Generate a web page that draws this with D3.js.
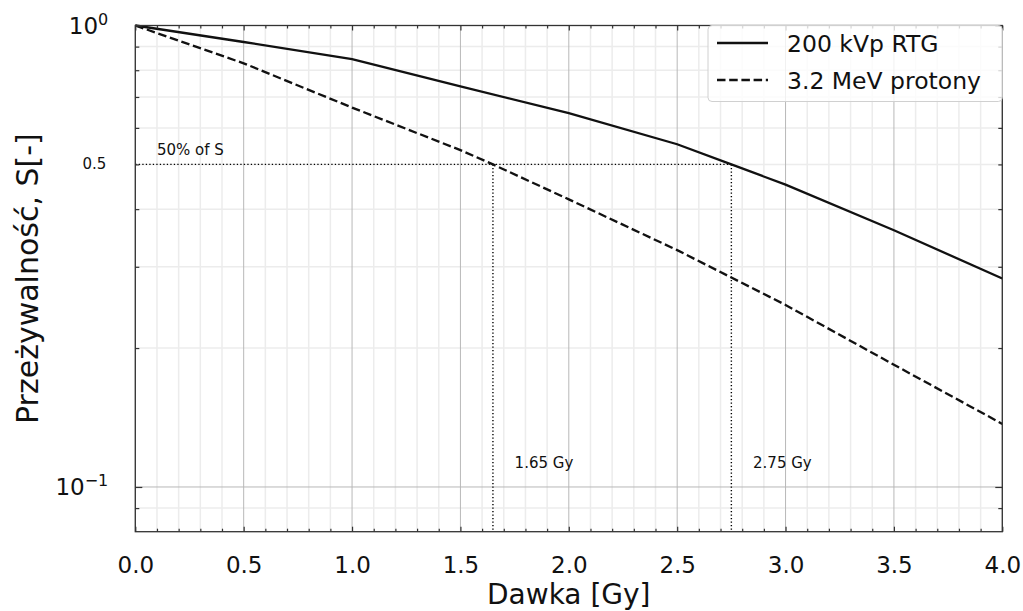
<!DOCTYPE html>
<html>
<head>
<meta charset="utf-8">
<script src="https://cdn.jsdelivr.net/npm/d3@7"></script>
<style>
  body { margin: 0; background: #fff; }
  text { font-family: "DejaVu Sans", sans-serif; fill: #111; }
</style>
</head>
<body>
<svg id="chart" width="1023" height="611"></svg>
<script>
// dose axis and survival readings for both beams
const doses = [0, 0.5, 1.0, 1.5, 2.0, 2.5, 2.75, 3.0, 3.5, 4.0];
const rtgSurvival = [1.0, 0.921, 0.846, 0.738, 0.646, 0.553, 0.5, 0.452, 0.36, 0.283];
const protonDoses = [0, 0.5, 1.0, 1.5, 1.65, 2.0, 2.5, 3.0, 3.5, 4.0];
const protonSurvival = [1.0, 0.828, 0.664, 0.537, 0.5, 0.42, 0.326, 0.248, 0.184, 0.137];

const xTicks = [0, 0.5, 1.0, 1.5, 2.0, 2.5, 3.0, 3.5, 4.0];
const xMinor = d3.range(1, 40).filter(d => d % 5 !== 0).map(d => d / 10);
const yMinor = [0.09, 0.2, 0.3, 0.4, 0.5, 0.6, 0.7, 0.8, 0.9];
const halfDoses = [1.65, 2.75];
const seriesNames = ["200 kVp RTG", "3.2 MeV protony"];

const svg = d3.select("#chart");
const pLeft = 135.3, pRight = 1002.3, pTop = 25.5, pBottom = 531.7;

let x = d3.scaleLinear().domain([0, 4]).range([pLeft, pRight]);
let y = d3.scaleLog().domain([0.08, 1]).range([pBottom, pTop]);

// grid
let grid = svg.append("g");
grid.selectAll(".vminor").data(xMinor).join("line")
  .attr("x1", d => x(d)).attr("x2", d => x(d)).attr("y1", pTop).attr("y2", pBottom)
  .attr("stroke", "#ececec").attr("stroke-width", 1.5);
grid.selectAll(".hminor").data(yMinor).join("line")
  .attr("x1", pLeft).attr("x2", pRight).attr("y1", d => y(d)).attr("y2", d => y(d))
  .attr("stroke", "#ececec").attr("stroke-width", 1.5);
grid.selectAll(".vmajor").data(xTicks).join("line")
  .attr("x1", d => x(d)).attr("x2", d => x(d)).attr("y1", pTop).attr("y2", pBottom)
  .attr("stroke", "#b8b8b8").attr("stroke-width", 1);
grid.append("line")
  .attr("x1", pLeft).attr("x2", pRight).attr("y1", y(0.1)).attr("y2", y(0.1))
  .attr("stroke", "#b8b8b8").attr("stroke-width", 1);

// 50% guides
let dotted = "1.3,2.2";
svg.append("line")
  .attr("x1", x(0)).attr("x2", x(2.75)).attr("y1", y(0.5)).attr("y2", y(0.5))
  .attr("stroke", "#000").attr("stroke-width", 1.4).attr("stroke-dasharray", dotted);
svg.selectAll(".vguide").data(halfDoses).join("line")
  .attr("x1", d => x(d)).attr("x2", d => x(d)).attr("y1", y(0.5)).attr("y2", pBottom)
  .attr("stroke", "#000").attr("stroke-width", 1.4).attr("stroke-dasharray", dotted);

svg.append("text").attr("x", x(0.1)).attr("y", y(0.5) - 9)
  .style("font-size", "15px").text("50% of S");
svg.selectAll(".gylabel").data(halfDoses).join("text")
  .attr("x", d => x(d + 0.1)).attr("y", y(0.11))
  .style("font-size", "15px").text(d => d.toFixed(2) + " Gy");

// curves
let line = d3.line().x(d => x(d[0])).y(d => y(d[1]));
svg.append("path")
  .datum(doses.map((d, i) => [d, rtgSurvival[i]]))
  .attr("d", line).attr("fill", "none").attr("stroke", "#111").attr("stroke-width", 2.3);
svg.append("path")
  .datum(protonDoses.map((d, i) => [d, protonSurvival[i]]))
  .attr("d", line).attr("fill", "none").attr("stroke", "#111").attr("stroke-width", 2.3)
  .attr("stroke-dasharray", "8.5,3.7");

// axes, ticks pointing inward
let bottomAxis = svg.append("g").attr("transform", `translate(0,${pBottom})`)
  .call(d3.axisBottom(x).tickValues(xTicks).tickFormat(d3.format(".1f"))
    .tickSizeInner(-5).tickSizeOuter(0).tickPadding(25));
bottomAxis.selectAll("text").style("font-size", "23px");
svg.append("g").attr("transform", `translate(0,${pBottom})`)
  .call(d3.axisBottom(x).tickValues(xMinor).tickFormat("").tickSizeInner(-3).tickSizeOuter(0));
svg.append("g").attr("transform", `translate(0,${pTop})`)
  .call(d3.axisTop(x).tickValues(xTicks).tickFormat("").tickSizeInner(-5).tickSizeOuter(0));
svg.append("g").attr("transform", `translate(0,${pTop})`)
  .call(d3.axisTop(x).tickValues(xMinor).tickFormat("").tickSizeInner(-3).tickSizeOuter(0));

svg.append("g").attr("transform", `translate(${pLeft},0)`)
  .call(d3.axisLeft(y).tickValues([1, 0.1]).tickFormat("")
    .tickSizeInner(-7).tickSizeOuter(0));
svg.append("g").attr("transform", `translate(${pLeft},0)`)
  .call(d3.axisLeft(y).tickValues(yMinor).tickFormat("").tickSizeInner(-4).tickSizeOuter(0));
svg.append("g").attr("transform", `translate(${pRight},0)`)
  .call(d3.axisRight(y).tickValues([1, 0.1]).tickFormat("").tickSizeInner(-7).tickSizeOuter(0));
svg.append("g").attr("transform", `translate(${pRight},0)`)
  .call(d3.axisRight(y).tickValues(yMinor).tickFormat("").tickSizeInner(-4).tickSizeOuter(0));

svg.selectAll(".domain").remove();
svg.selectAll(".tick line").attr("stroke", "#333").attr("stroke-width", 1.2);

// y tick labels: powers of ten with superscripts, 0.5 small
let yLabels = svg.append("g");
[[1, "0"], [0.1, "\u22121"]].forEach(([v, p]) => {
  let t = yLabels.append("text").attr("x", pLeft - 27).attr("y", y(v) + 8)
    .attr("text-anchor", "end").style("font-size", "23px");
  t.append("tspan").text("10");
  t.append("tspan").attr("dy", -9).style("font-size", "16px").text(p);
});
yLabels.append("text").attr("x", pLeft - 29).attr("y", y(0.5) + 5)
  .attr("text-anchor", "end").style("font-size", "15px").text("0.5");

// frame
svg.append("rect").attr("x", pLeft).attr("y", pTop)
  .attr("width", pRight - pLeft).attr("height", pBottom - pTop)
  .attr("fill", "none").attr("stroke", "#333").attr("stroke-width", 1.3);

// axis titles
svg.append("text").attr("x", (pLeft + pRight) / 2).attr("y", 604)
  .attr("text-anchor", "middle").style("font-size", "28px").text("Dawka [Gy]");
svg.append("text").attr("transform", `translate(38,${(pTop + pBottom) / 2}) rotate(-90)`)
  .attr("text-anchor", "middle").style("font-size", "30px").text("Przeżywalność, S[-]");

// legend
let legend = svg.append("g");
legend.append("rect").attr("x", 708).attr("y", pTop).attr("width", pRight - 708).attr("height", 76)
  .attr("rx", 4).attr("fill", "#fff").attr("fill-opacity", 0.8)
  .attr("stroke", "#d0d0d0").attr("stroke-width", 1);
seriesNames.forEach((name, i) => {
  let ly = 43 + i * 37;
  legend.append("line").attr("x1", 717).attr("x2", 768).attr("y1", ly).attr("y2", ly)
    .attr("stroke", "#111").attr("stroke-width", 2.3)
    .attr("stroke-dasharray", i === 1 ? "8.5,3.7" : null);
  legend.append("text").attr("x", 787).attr("y", ly + 9)
    .style("font-size", "23.5px").text(name);
});
</script>
</body>
</html>
